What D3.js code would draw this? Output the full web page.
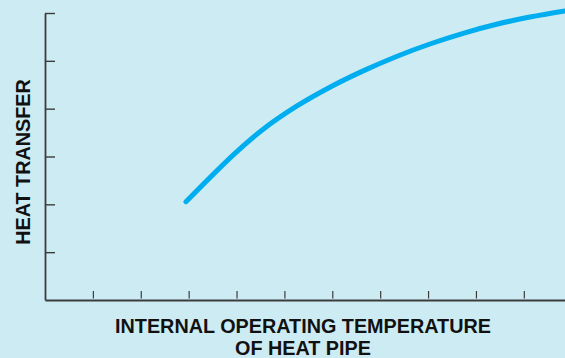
<!DOCTYPE html>
<html>
<head>
<meta charset="utf-8">
<script src="https://cdn.jsdelivr.net/npm/d3@7"></script>
<style>
  html, body { margin: 0; padding: 0; background: #cdebf3; }
  svg { display: block; }
</style>
</head>
<body>
<svg id="chart" width="565" height="358"></svg>
<script>
// Data (arbitrary units)
const temperature = [2.944, 3.967, 4.557, 5.255, 5.950, 6.645, 7.342, 8.038, 8.733, 9.430, 10.125, 10.86];
const heatTransfer = [2.055, 3.067, 3.571, 4.052, 4.449, 4.790, 5.091, 5.352, 5.576, 5.764, 5.916, 6.044];
const xTicks = [1, 2, 3, 4, 5, 6, 7, 8, 9, 10];
const yTicks = [1, 2, 3, 4, 5, 6];
const xLabelLines = ["INTERNAL OPERATING TEMPERATURE", "OF HEAT PIPE"];
const yLabel = "HEAT TRANSFER";

const svg = d3.select("#chart");
const W = 565, H = 358;
svg.append("rect").attr("width", W).attr("height", H).attr("fill", "#cdebf3");

const x = d3.scaleLinear().domain([0, 10.86]).range([45, 565]);
const y = d3.scaleLinear().domain([0, 6]).range([300, 13]);

const axisColor = "#3c3c3c";

// X axis
const gx = svg.append("g").attr("transform", "translate(0,300)")
  .call(d3.axisBottom(x).tickValues(xTicks).tickSizeInner(-8).tickSizeOuter(0).tickFormat(""));
gx.select(".domain").attr("stroke", axisColor).attr("stroke-width", 1.8);
gx.selectAll(".tick line").attr("stroke", axisColor).attr("stroke-width", 1.2)
  .attr("y1", -1.5).attr("y2", -9);

// Y axis
const gy = svg.append("g").attr("transform", "translate(45,0)")
  .call(d3.axisLeft(y).tickValues(yTicks).tickSizeInner(-10).tickSizeOuter(0).tickFormat(""));
gy.select(".domain").attr("stroke", axisColor).attr("stroke-width", 1.8);
gy.selectAll(".tick line").attr("stroke", axisColor).attr("stroke-width", 1.4);

// Curve
const pts = temperature.map((t, i) => [t, heatTransfer[i]]);
svg.append("path")
  .datum(pts)
  .attr("fill", "none")
  .attr("stroke", "#00aeef")
  .attr("stroke-width", 5)
  .attr("stroke-linecap", "round")
  .attr("d", d3.line().x(d => x(d[0])).y(d => y(d[1])).curve(d3.curveCatmullRom.alpha(0.5)));

// X label
const xl = svg.append("text")
  .attr("text-anchor", "middle")
  .attr("font-family", "Liberation Sans, Arial, sans-serif")
  .attr("font-weight", "bold")
  .attr("font-size", 19.8)
  .attr("fill", "#111");
xLabelLines.forEach((line, i) => {
  xl.append("tspan").attr("x", 303).attr("y", 333 + i * 22).text(line);
});

// Y label
svg.append("text")
  .attr("transform", "translate(30,162) rotate(-90)")
  .attr("text-anchor", "middle")
  .attr("font-family", "Liberation Sans, Arial, sans-serif")
  .attr("font-weight", "bold")
  .attr("font-size", 19.8)
  .attr("fill", "#111")
  .text(yLabel);
</script>
</body>
</html>
